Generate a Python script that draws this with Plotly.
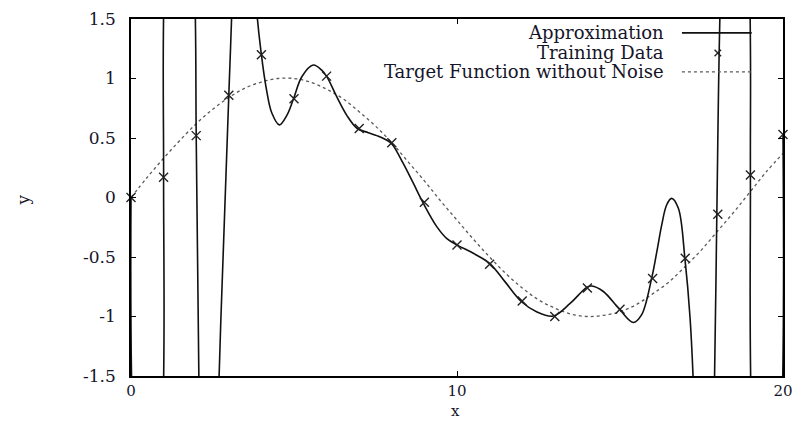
import plotly.graph_objects as go

# Noisy training samples
train_x = [0, 1, 2, 3, 4, 5, 6, 7, 8, 9, 10, 11, 12, 13, 14, 15, 16, 17, 18, 19, 20]
train_y = [0.0, 0.17, 0.52, 0.86, 1.2, 0.83, 1.02, 0.58, 0.46, -0.04, -0.4,
           -0.56, -0.87, -1.0, -0.76, -0.94, -0.68, -0.51, -0.14, 0.19, 0.53]

# Noise-free target function
target_x = [i * 0.5 for i in range(41)]
target_y = [0.0, 0.17, 0.33, 0.48, 0.62, 0.74, 0.84, 0.92, 0.97, 1.0, 1.0,
            0.97, 0.91, 0.83, 0.72, 0.6, 0.46, 0.3, 0.14, -0.03, -0.19,
            -0.35, -0.5, -0.64, -0.76, -0.86, -0.93, -0.98, -1.0, -0.99,
            -0.96, -0.9, -0.81, -0.71, -0.58, -0.44, -0.28, -0.12, 0.05,
            0.22, 0.37]

# Fitted approximation (swings far outside the visible range near the ends)
approx_x = [0, 0.03, 0.5, 0.99, 1.0, 1.01, 1.5, 1.96, 2.0, 2.09, 2.4, 2.68,
            3.0, 3.11, 3.45, 3.82, 4.0, 4.16, 4.32, 4.55, 4.78, 4.98, 5.24,
            5.59, 5.85, 6.02, 6.31, 6.62, 6.94, 7.28, 7.54, 7.79, 8.0, 8.35,
            8.66, 8.97, 9.38, 9.68, 10.01, 10.5, 11.0, 11.47, 11.98, 12.44,
            12.95, 13.47, 13.98, 14.13, 14.49, 15.0, 15.41, 15.66, 15.97,
            16.13, 16.28, 16.43, 16.58, 16.79, 16.99, 17.15, 17.27, 17.6,
            17.89, 17.97, 18.08, 18.5, 18.98, 19.0, 19.02, 19.5, 19.98, 20.0]
approx_y = [0.0, -1.7, -5.0, -1.7, 0.17, 1.7, 5.0, 1.7, 0.52, -1.7, -5.0, -1.7,
            0.86, 1.7, 5.0, 1.7, 1.2, 0.9, 0.71, 0.61, 0.69, 0.825, 1.015,
            1.113, 1.07, 1.01, 0.847, 0.69, 0.58, 0.545, 0.52, 0.49, 0.45,
            0.287, 0.12, -0.05, -0.245, -0.343, -0.4, -0.469, -0.553, -0.707,
            -0.876, -0.96, -0.996, -0.89, -0.755, -0.744, -0.79, -0.945,
            -1.05, -0.987, -0.68, -0.455, -0.23, -0.063, -0.007, -0.09, -0.51,
            -1.015, -1.7, -5.0, -1.7, -0.147, 1.7, 5.0, 1.7, 0.19, -1.7, -5.0,
            -1.7, 0.53]

legend_labels = ["Approximation", "Training Data", "Target Function without Noise"]

FONT = "DejaVu Serif"
INK = "#15152a"
FS = 17

fig = go.Figure()

fig.add_trace(go.Scatter(
    x=target_x, y=target_y, mode="lines", line_shape="spline",
    line=dict(color="#5a5a5a", width=1.3, dash="dot"),
    name=legend_labels[2], showlegend=False, hoverinfo="skip"))

fig.add_trace(go.Scatter(
    x=approx_x, y=approx_y, mode="lines", line_shape="spline",
    line=dict(color="#111111", width=1.6),
    name=legend_labels[0], showlegend=False, hoverinfo="skip"))

fig.add_trace(go.Scatter(
    x=train_x, y=train_y, mode="markers",
    marker=dict(symbol="x-thin", size=9, line=dict(color="#222222", width=1.4)),
    name=legend_labels[1], showlegend=False, cliponaxis=False))

axis_common = dict(
    showline=True, linecolor="black", linewidth=1.6, mirror="ticks",
    ticks="inside", ticklen=5, tickwidth=1, tickcolor="black",
    showgrid=False, zeroline=False, automargin=False,
)

fig.update_xaxes(range=[0, 20], tickvals=[0, 10, 20], ticklabelstandoff=0,
                 tickfont=dict(family=FONT, size=15, color=INK), **axis_common)
fig.update_yaxes(range=[-1.5, 1.5], tickvals=[-1.5, -1, -0.5, 0, 0.5, 1, 1.5],
                 ticktext=["-1.5", "-1", "-0.5", "0", "0.5", "1", "1.5"],
                 ticklabelstandoff=10,
                 tickfont=dict(family=FONT, size=FS, color=INK), **axis_common)

# Legend: right-aligned labels followed by a line / marker key
rows_y = [0.961, 0.905, 0.852]
text_right = 0.821
key_x0, key_x1, key_mid = 0.845, 0.952, 0.900
annotations = []
for label, ry in zip(legend_labels, rows_y):
    annotations.append(dict(
        x=text_right, y=ry, xref="paper", yref="paper", text=label,
        showarrow=False, xanchor="right", yanchor="middle",
        font=dict(family=FONT, size=18, color=INK)))

annotations.append(dict(x=0.497, y=-0.098, xref="paper", yref="paper", text="x",
                        showarrow=False, xanchor="center", yanchor="middle",
                        font=dict(family=FONT, size=15, color=INK)))
annotations.append(dict(x=-0.165, y=0.493, xref="paper", yref="paper", text="y",
                        showarrow=False, xanchor="center", yanchor="middle",
                        textangle=-90, font=dict(family=FONT, size=FS, color=INK)))

shapes = [
    dict(type="line", xref="paper", yref="paper", x0=key_x0, x1=key_x1,
         y0=rows_y[0], y1=rows_y[0], line=dict(color="#111111", width=1.6)),
    dict(type="line", xref="paper", yref="paper", x0=key_x0, x1=key_x1,
         y0=rows_y[2], y1=rows_y[2], line=dict(color="#5a5a5a", width=1.3, dash="dot")),
    dict(type="line", xref="paper", yref="paper", x0=key_mid - 0.005, x1=key_mid + 0.005,
         y0=rows_y[1] - 0.009, y1=rows_y[1] + 0.009, line=dict(color="#222222", width=1.4)),
    dict(type="line", xref="paper", yref="paper", x0=key_mid - 0.005, x1=key_mid + 0.005,
         y0=rows_y[1] + 0.009, y1=rows_y[1] - 0.009, line=dict(color="#222222", width=1.4)),
]

fig.update_layout(
    width=796, height=422,
    margin=dict(l=131, r=13, t=19, b=46),
    paper_bgcolor="white", plot_bgcolor="white",
    showlegend=False,
    annotations=annotations, shapes=shapes,
)

fig.write_html("out.html")
